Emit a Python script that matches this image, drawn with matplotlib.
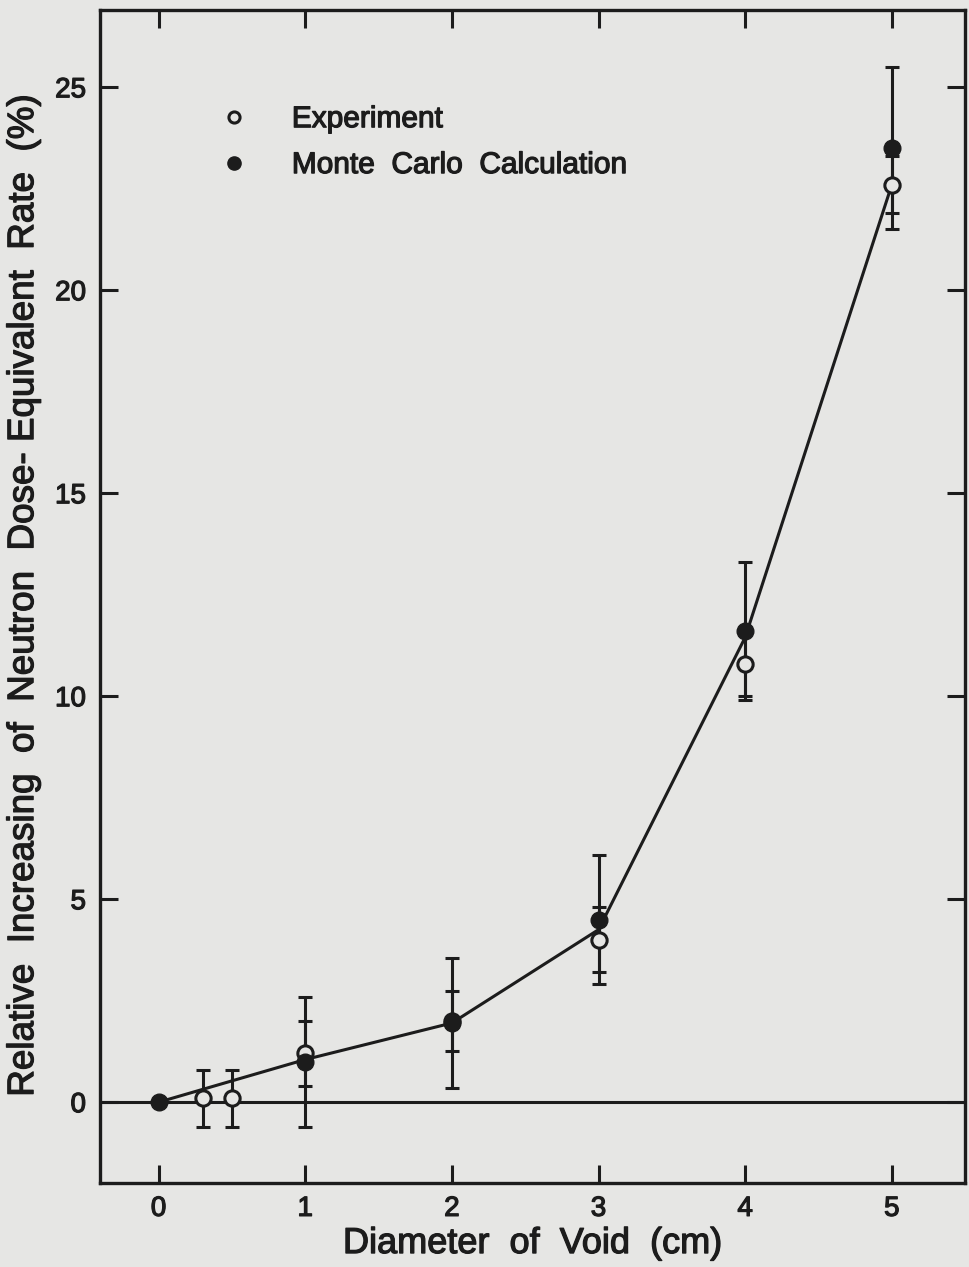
import matplotlib.pyplot as plt
import matplotlib.patheffects as pe
from matplotlib.lines import Line2D

# Experiment (open circles)
exp_x = [0.3, 0.5, 1.0, 2.0, 3.0, 4.0, 5.0]
exp_y = [0.1, 0.1, 1.2, 2.0, 4.0, 10.8, 22.6]
exp_err = [0.7, 0.7, 0.8, 0.75, 0.8, 0.8, 0.7]

# Monte Carlo calculation (filled circles)
mc_x = [0.0, 1.0, 2.0, 3.0, 4.0, 5.0]
mc_y = [0.0, 1.0, 1.95, 4.5, 11.6, 23.5]
mc_err = [0.0, 1.6, 1.6, 1.6, 1.7, 2.0]

# drawn curve
curve_x = [0.0, 1.0, 2.0, 3.0, 4.0, 5.0]
curve_y = [0.0, 1.05, 1.95, 4.25, 11.45, 22.6]

x_ticks = [0, 1, 2, 3, 4, 5]
y_ticks = [0, 5, 10, 15, 20, 25]

bg = "#e6e6e4"
ink = "#1c1c1c"
font = ["Liberation Sans", "DejaVu Sans"]
# scanned print looks a bit heavier than the regular weight
heavy = [pe.withStroke(linewidth=0.9, foreground=ink)]

plt.rcParams["font.family"] = font

fig = plt.figure(figsize=(9.7, 12.67), dpi=100, facecolor=bg)
ax = fig.add_axes([0.103, 0.066, 0.892, 0.926], facecolor=bg)

ax.axhline(0, color=ink, lw=2.2, zorder=1)
ax.plot(curve_x, curve_y, color=ink, lw=2.2, zorder=2)

ax.errorbar(mc_x[1:], mc_y[1:], yerr=mc_err[1:], fmt="none", ecolor=ink,
            elinewidth=2.2, capsize=4.7, capthick=2.2, zorder=3)
ax.errorbar(exp_x, exp_y, yerr=exp_err, fmt="none", ecolor=ink,
            elinewidth=2.2, capsize=4.7, capthick=2.2, zorder=3)
ax.plot(exp_x, exp_y, "o", ms=11, mfc=bg, mec=ink, mew=2.2, ls="none", zorder=4)
ax.plot(mc_x, mc_y, "o", ms=12, mfc=ink, mec=ink, ls="none", zorder=5)

ax.set_xlim(-0.4, 5.5)
ax.set_ylim(-2.0, 26.9)
ax.set_xticks(x_ticks)
ax.set_yticks(y_ticks)
ax.tick_params(direction="in", length=13, width=2.2, labelsize=20,
               top=True, right=True, color=ink, labelcolor=ink)
ax.tick_params(axis="x", pad=9)
ax.tick_params(axis="y", pad=10)
for lbl in ax.get_xticklabels() + ax.get_yticklabels():
    lbl.set_path_effects(heavy)
for s in ax.spines.values():
    s.set_linewidth(2.4)
    s.set_color(ink)

ax.set_xlabel("Diameter  of  Void  (cm)", fontsize=26, color=ink, labelpad=3,
              path_effects=heavy)
ax.set_ylabel("Relative  Increasing  of  Neutron  Dose- Equivalent  Rate  (%)",
              fontsize=26.5, color=ink, labelpad=10, path_effects=heavy)

handles = [
    Line2D([], [], marker="o", ls="none", ms=8, mfc=bg, mec=ink, mew=2.2),
    Line2D([], [], marker="o", ls="none", ms=9.5, mfc=ink, mec=ink),
]
leg = ax.legend(handles, ["Experiment", "Monte  Carlo  Calculation"],
                loc="upper left", bbox_to_anchor=(0.12, 0.919), frameon=False,
                fontsize=21.5, handlelength=2.0, handletextpad=0.95,
                labelspacing=0.6, borderpad=0, borderaxespad=0,
                labelcolor=ink)
for t in leg.get_texts():
    t.set_path_effects(heavy)

fig.savefig("out.png", dpi=100, facecolor=bg)
